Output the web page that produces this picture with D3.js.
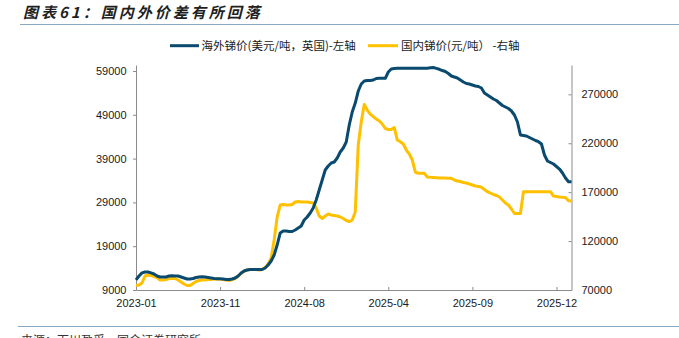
<!DOCTYPE html>
<html>
<head>
<meta charset="utf-8">
<script src="https://cdn.jsdelivr.net/npm/d3@7/dist/d3.min.js"></script>
<style>
  html, body { margin: 0; padding: 0; background: #fff; }
  svg { display: block; }
</style>
</head>
<body>
<svg id="chart" width="679" height="338"></svg>
<script>
// Overseas antimony price (USD/t, UK) — left axis, sampled on a regular trading-day grid
const overseasPrice = [
  11300, 12200, 12900, 13100, 13100, 12900, 12650, 12200, 11970, 11970,
  11970, 12200, 12260, 12200, 12200, 11970, 11740, 11510, 11510, 11630,
  11850, 11970, 12040, 11970, 11850, 11740, 11630, 11580, 11580, 11510,
  11400, 11400, 11510, 11740, 12200, 12880, 13340, 13570, 13680, 13680,
  13680, 13680, 13680, 14020, 14710, 15620, 16990, 19270, 22010, 22470,
  22470, 22360, 22360, 22700, 23150, 23610, 24980, 25670, 26580, 27720,
  29550, 31830, 34110, 36400, 37310, 37990, 38220, 39140, 40510, 41420,
  42790, 46670, 49640, 51690, 54430, 56030, 56710, 56830, 56830, 56940,
  57290, 57330, 57330, 57330, 58770, 59450, 59570, 59610, 59610, 59610,
  59610, 59610, 59610, 59610, 59610, 59610, 59610, 59610, 59720, 59800,
  59610, 59390, 59110, 58880, 58430, 57860, 57630, 57400, 56940, 56490,
  56140, 56030, 55800, 55570, 55460, 55120, 53980, 53520, 53060, 52610,
  52260, 51690, 51120, 50780, 50440, 49870, 48950, 47350, 44390, 44270,
  44160, 43820, 43470, 43130, 42860, 42330, 39820, 38450, 38110, 37770,
  37200, 36620, 35710, 34570, 33720, 33720
];

// Domestic antimony price (CNY/t) — right axis
const domesticPrice = [
  74600, 75110, 77150, 84310, 85330, 84820, 83800, 82780, 80220, 80220,
  80730, 81750, 81960, 81750, 80220, 78180, 76130, 74600, 74600, 76640,
  78690, 79710, 80220, 80220, 80730, 80730, 81240, 81240, 80940, 80730,
  80220, 79710, 80730, 81750, 83800, 86860, 89420, 90440, 90950, 90950,
  90950, 90440, 90950, 93000, 96570, 102700, 121100, 144610, 156870, 157380,
  156870, 156870, 157380, 159940, 160450, 159940, 159940, 159940, 159430, 158910,
  153800, 145630, 143070, 145630, 147670, 146650, 146140, 145630, 144610, 143070,
  141030, 139800, 141540, 149720, 218190, 241700, 259580, 253960, 249870, 247320,
  244760, 242720, 239650, 235050, 234030, 234030, 236080, 223300, 221560, 219210,
  213080, 208990, 202860, 190600, 189270, 189270, 189270, 185490, 185180, 184980,
  184770, 184460, 184460, 184460, 184160, 184160, 182420, 181400, 180890, 179870,
  179350, 178330, 177310, 176290, 175780, 174960, 172710, 170460, 169130, 167600,
  166580, 165050, 161980, 158910, 156870, 152780, 148180, 148180, 148180, 170460,
  170460, 170460, 170460, 170460, 170460, 170460, 170460, 170460, 170460, 166070,
  165560, 165050, 164740, 164540, 161270, 160960
];

// Category labels shown on the x axis, one every 28 observations
const xTickLabels = ["2023-01", "2023-11", "2024-08", "2025-04", "2025-09", "2025-12"];
const xTickStep = 28;

const leftTicks = [9000, 19000, 29000, 39000, 49000, 59000];
const rightTicks = [70000, 120000, 170000, 220000, 270000];

const seriesNames = ["海外锑价(美元/吨，英国)-左轴", "国内锑价(元/吨） -右轴"];
const colors = ["#0b4a6f", "#ffc000"];

const svg = d3.select("#chart");
const latin = "'Liberation Sans', Arial, 'Noto Sans CJK SC', sans-serif";
const cjk = "'Noto Sans CJK SC', 'Liberation Sans', sans-serif";

const plot = { left: 136, right: 571.5, top: 65, bottom: 290 };

const x = d3.scaleLinear()
  .domain([0, overseasPrice.length - 1])
  .range([plot.left, plot.right]);
const yL = d3.scaleLinear().domain([9000, 60370]).range([plot.bottom, plot.top]);
const yR = d3.scaleLinear().domain([70000, 300000]).range([plot.bottom, plot.top]);

// Title and separators
svg.append("text")
  .attr("x", 23).attr("y", 17.5)
  .attr("font-family", cjk)
  .attr("font-size", 15)
  .attr("font-weight", "bold")
  .attr("font-style", "italic")
  .attr("letter-spacing", 3)
  .attr("fill", "#1f1f1f")
  .text("图表61：国内外价差有所回落");

svg.append("line")
  .attr("x1", 20).attr("x2", 679).attr("y1", 24.5).attr("y2", 24.5)
  .attr("stroke", "#87a9c4").attr("stroke-width", 1.2);

svg.append("line")
  .attr("x1", 18).attr("x2", 679).attr("y1", 326.5).attr("y2", 326.5)
  .attr("stroke", "#87a9c4").attr("stroke-width", 1.2);

svg.append("text")
  .attr("x", 21).attr("y", 345)
  .attr("font-family", cjk)
  .attr("font-size", 12)
  .attr("fill", "#333")
  .text("来源：百川盈孚，国金证券研究所");

// Axes
function styleAxis(g) {
  g.selectAll("path.domain").attr("stroke", "#8c8c8c").attr("stroke-width", 1);
  g.selectAll(".tick line").attr("stroke", "#8c8c8c");
  g.selectAll(".tick text")
    .attr("fill", "#1a1a1a")
    .attr("font-family", latin)
    .attr("font-size", 11);
}

const xTickValues = xTickLabels.map((_, i) => i * xTickStep);
svg.append("g")
  .attr("transform", `translate(0,${plot.bottom})`)
  .call(d3.axisBottom(x)
    .tickValues(xTickValues)
    .tickFormat((d, i) => xTickLabels[i])
    .tickSizeInner(-3).tickSizeOuter(0).tickPadding(9.5))
  .call(styleAxis);

svg.append("g")
  .attr("transform", `translate(${plot.left},0)`)
  .call(d3.axisLeft(yL).tickValues(leftTicks).tickFormat(d3.format("d"))
    .tickSizeInner(3).tickSizeOuter(0).tickPadding(6.5))
  .call(styleAxis);

svg.append("g")
  .attr("transform", `translate(${plot.right},0)`)
  .call(d3.axisRight(yR).tickValues(rightTicks).tickFormat(d3.format("d"))
    .tickSizeInner(-3).tickSizeOuter(0).tickPadding(10))
  .call(styleAxis);

// Lines
const lineL = d3.line().x((d, i) => x(i)).y(d => yL(d));
const lineR = d3.line().x((d, i) => x(i)).y(d => yR(d));

svg.append("path")
  .datum(domesticPrice)
  .attr("d", lineR)
  .attr("fill", "none")
  .attr("stroke", colors[1])
  .attr("stroke-width", 3)
  .attr("stroke-linejoin", "round");

svg.append("path")
  .datum(overseasPrice)
  .attr("d", lineL)
  .attr("fill", "none")
  .attr("stroke", colors[0])
  .attr("stroke-width", 3)
  .attr("stroke-linejoin", "round");

// Legend
const legend = [
  { name: seriesNames[0], color: colors[0], x0: 170, x1: 199, tx: 201.5 },
  { name: seriesNames[1], color: colors[1], x0: 368, x1: 398, tx: 401 }
];
const lg = svg.append("g");
legend.forEach(item => {
  lg.append("line")
    .attr("x1", item.x0).attr("x2", item.x1)
    .attr("y1", 45.7).attr("y2", 45.7)
    .attr("stroke", item.color).attr("stroke-width", 3);
  lg.append("text")
    .attr("x", item.tx).attr("y", 50)
    .attr("font-family", cjk)
    .attr("font-size", 11.5)
    .attr("fill", "#1a1a1a")
    .text(item.name);
});
</script>
</body>
</html>
